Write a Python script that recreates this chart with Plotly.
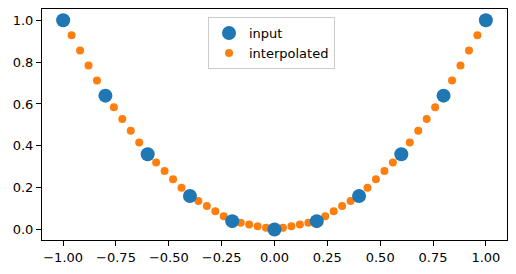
import plotly.graph_objects as go

# input points
x_input = [-1.0, -0.8, -0.6, -0.4, -0.2, 0.0, 0.2, 0.4, 0.6, 0.8, 1.0]
y_input = [1.0, 0.64, 0.36, 0.16, 0.04, 0.0, 0.04, 0.16, 0.36, 0.64, 1.0]

# interpolated points
x_interp = [-1.00, -0.96, -0.92, -0.88, -0.84, -0.80, -0.76, -0.72, -0.68, -0.64,
            -0.60, -0.56, -0.52, -0.48, -0.44, -0.40, -0.36, -0.32, -0.28, -0.24,
            -0.20, -0.16, -0.12, -0.08, -0.04, 0.00, 0.04, 0.08, 0.12, 0.16,
            0.20, 0.24, 0.28, 0.32, 0.36, 0.40, 0.44, 0.48, 0.52, 0.56,
            0.60, 0.64, 0.68, 0.72, 0.76, 0.80, 0.84, 0.88, 0.92, 0.96, 1.00]
y_interp = [1.000, 0.928, 0.856, 0.784, 0.712, 0.640, 0.584, 0.528, 0.472, 0.416,
            0.360, 0.320, 0.280, 0.240, 0.200, 0.160, 0.136, 0.112, 0.088, 0.064,
            0.040, 0.032, 0.024, 0.016, 0.008, 0.000, 0.008, 0.016, 0.024, 0.032,
            0.040, 0.064, 0.088, 0.112, 0.136, 0.160, 0.200, 0.240, 0.280, 0.320,
            0.360, 0.416, 0.472, 0.528, 0.584, 0.640, 0.712, 0.784, 0.856, 0.928, 1.000]

x_ticks = [-1.0, -0.75, -0.5, -0.25, 0.0, 0.25, 0.5, 0.75, 1.0]
x_ticklabels = ["\u22121.00", "\u22120.75", "\u22120.50", "\u22120.25", "0.00", "0.25", "0.50", "0.75", "1.00"]
y_ticks = [0.0, 0.2, 0.4, 0.6, 0.8, 1.0]
y_ticklabels = ["0.0", "0.2", "0.4", "0.6", "0.8", "1.0"]

fig = go.Figure()
fig.add_trace(go.Scatter(x=x_interp, y=y_interp, mode="markers", name="interpolated",
                         marker=dict(color="#ff7f0e", size=8, line=dict(width=0))))
fig.add_trace(go.Scatter(x=x_input, y=y_input, mode="markers", name="input",
                         marker=dict(color="#1f77b4", size=14, line=dict(width=0))))

axis_common = dict(showgrid=False, zeroline=False, showline=True, linecolor="black",
                   linewidth=1, mirror=True, ticks="outside", ticklen=5, tickcolor="black",
                   tickfont=dict(family="DejaVu Sans", size=13, color="black"))
fig.update_xaxes(range=[-1.1, 1.1], tickvals=x_ticks, ticktext=x_ticklabels, **axis_common)
fig.update_yaxes(range=[-0.05, 1.054], tickvals=y_ticks, ticktext=y_ticklabels, **axis_common)

fig.update_layout(
    width=516, height=274,
    margin=dict(l=42, r=9, t=9, b=34),
    plot_bgcolor="white", paper_bgcolor="white",
    font=dict(family="DejaVu Sans", size=13, color="black"),
    legend=dict(x=0.357, y=0.965, xanchor="left", yanchor="top",
                bgcolor="white", bordercolor="#cccccc", borderwidth=1,
                traceorder="reversed",
                font=dict(family="DejaVu Sans", size=13), tracegroupgap=0),
)

fig.write_html("out.html")
